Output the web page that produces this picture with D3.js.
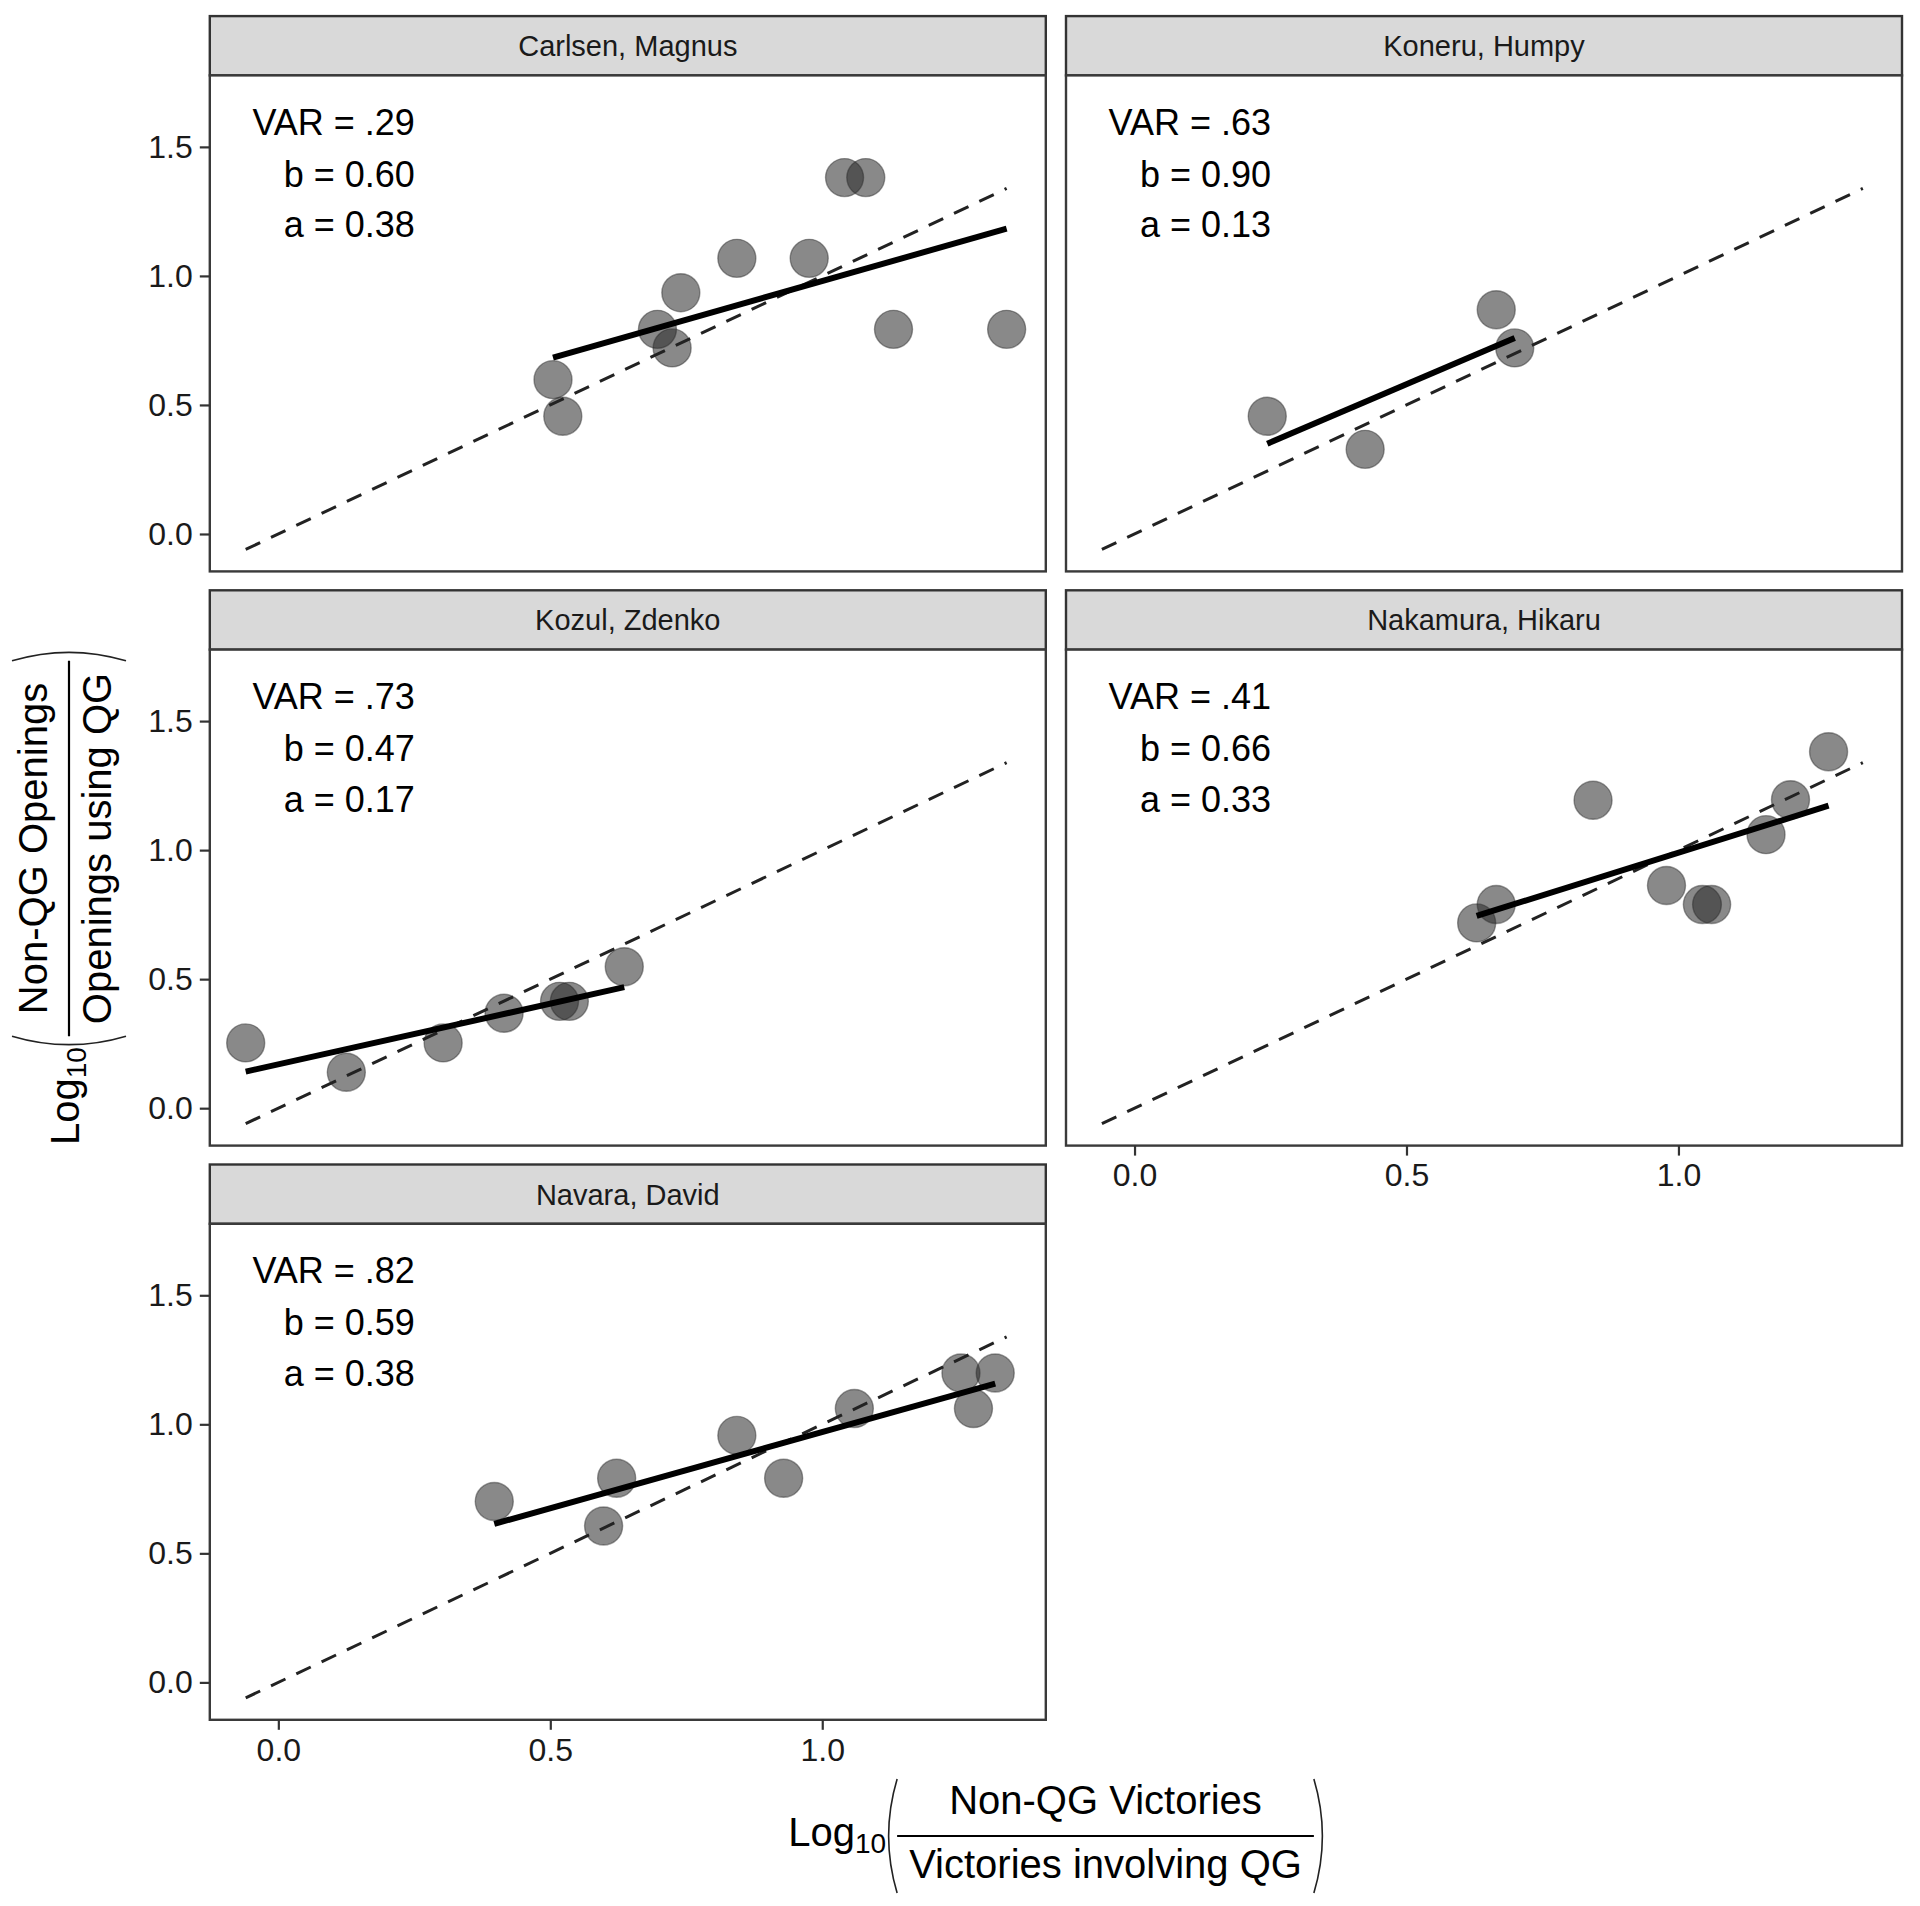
<!DOCTYPE html>
<html><head><meta charset="utf-8">
<script src="https://cdn.jsdelivr.net/npm/d3@7"></script>
<style>
body{margin:0;background:#fff}
svg{display:block}
text{font-family:"Liberation Sans",Arial,Helvetica,sans-serif}
</style>
</head><body><svg id="chart" width="1920" height="1906"></svg>
<script>
// ---------- data ----------
const players = ["Carlsen, Magnus","Koneru, Humpy","Kozul, Zdenko","Nakamura, Hikaru","Navara, David"];
const varText = [".29",".63",".73",".41",".82"];
const slopeB = [0.60,0.90,0.47,0.66,0.59];
const interceptA = [0.38,0.13,0.17,0.33,0.38];
const carlsenX = [0.505,0.523,0.697,0.724,0.740,0.843,0.976,1.041,1.080,1.131,1.339];
const carlsenY = [0.598,0.456,0.793,0.721,0.935,1.068,1.068,1.381,1.381,0.793,0.793];
const koneruX = [0.244,0.424,0.665,0.699];
const koneruY = [0.456,0.328,0.869,0.721];
const kozulX = [-0.060,0.125,0.303,0.415,0.517,0.535,0.636];
const kozulY = [0.253,0.139,0.253,0.368,0.414,0.414,0.548];
const nakamuraX = [0.629,0.665,0.843,0.978,1.044,1.061,1.161,1.206,1.276];
const nakamuraY = [0.718,0.789,1.193,0.863,0.789,0.789,1.060,1.195,1.381];
const navaraX = [0.397,0.598,0.622,0.843,0.929,1.059,1.255,1.278,1.318];
const navaraY = [0.701,0.606,0.791,0.957,0.791,1.061,1.199,1.061,1.199];
const xTicks = [0.0, 0.5, 1.0];
const yTicks = [0.0, 0.5, 1.0, 1.5];
const xTitleNum = "Non-QG Victories", xTitleDen = "Victories involving QG";
const yTitleNum = "Non-QG Openings", yTitleDen = "Openings using QG";

const seriesX = [carlsenX, koneruX, kozulX, nakamuraX, navaraX];
const seriesY = [carlsenY, koneruY, kozulY, nakamuraY, navaraY];

// ---------- layout ----------
const svg = d3.select("#chart");
svg.append("rect").attr("width",1920).attr("height",1906).attr("fill","#fff");
const colLeft = [209.8, 1066], panelW = 836;
const stripTop0 = 16.1, rowPitch = 574.2, stripH = 59.3, panelH = 496;
const xDomain = [-0.126, 1.411], yDomain = [-0.145, 1.777];
const fmt = d3.format(".1f");

const allX = seriesX.flat();
const gMin = d3.min(allX), gMax = d3.max(allX);

players.forEach((name, i) => {
  const r = Math.floor(i/2), c = i % 2;
  const left = colLeft[c];
  const sTop = stripTop0 + r*rowPitch;
  const pTop = sTop + stripH, pBot = pTop + panelH;
  const x = d3.scaleLinear().domain(xDomain).range([left, left+panelW]);
  const y = d3.scaleLinear().domain(yDomain).range([pBot, pTop]);
  const g = svg.append("g");

  // strip
  g.append("rect").attr("x",left).attr("y",sTop).attr("width",panelW).attr("height",stripH)
    .attr("fill","#d9d9d9").attr("stroke","#333").attr("stroke-width",2.4);
  g.append("text").attr("x",left+panelW/2).attr("y",sTop+40).attr("text-anchor","middle")
    .attr("font-size",29).attr("fill","#1a1a1a").text(name);

  // panel background
  g.append("rect").attr("x",left).attr("y",pTop).attr("width",panelW).attr("height",panelH)
    .attr("fill","#fff");

  // points
  const pts = seriesX[i].map((v,k)=>({x:v,y:seriesY[i][k]}));
  g.selectAll("circle.pt").data(pts).enter().append("circle").attr("class","pt")
    .attr("cx",d=>x(d.x)).attr("cy",d=>y(d.y)).attr("r",19)
    .attr("fill","rgba(40,40,40,0.55)").attr("stroke","rgba(40,40,40,0.45)").attr("stroke-width",1.4);

  // identity dashed line
  const line = d3.line().x(d=>x(d[0])).y(d=>y(d[1]));
  g.append("path").datum([[gMin,gMin],[gMax,gMax]]).attr("d",line)
    .attr("stroke","#222").attr("stroke-width",3).attr("stroke-dasharray","16,12").attr("fill","none");

  // regression line
  const xmin = d3.min(seriesX[i]), xmax = d3.max(seriesX[i]);
  g.append("path").datum([[xmin, interceptA[i]+slopeB[i]*xmin],[xmax, interceptA[i]+slopeB[i]*xmax]])
    .attr("d",line).attr("stroke","#000").attr("stroke-width",6).attr("fill","none");

  // annotation
  const ann = ["VAR = " + varText[i], "b = " + slopeB[i].toFixed(2), "a = " + interceptA[i].toFixed(2)];
  const off = [59.3, 111.4, 162];
  ann.forEach((t,k)=>{
    g.append("text").attr("x",left+205).attr("y",pTop+off[k]).attr("text-anchor","end")
      .attr("font-size",36).attr("fill","#000").text(t);
  });

  // panel border
  g.append("rect").attr("x",left).attr("y",pTop).attr("width",panelW).attr("height",panelH)
    .attr("fill","none").attr("stroke","#3a3a3a").attr("stroke-width",2.4);

  // y axis (left column)
  if (c === 0) {
    const ya = d3.axisLeft(y).tickValues(yTicks).tickFormat(fmt).tickSize(10).tickPadding(7);
    const ag = g.append("g").attr("transform",`translate(${left},0)`).call(ya);
    ag.select(".domain").remove();
    ag.selectAll("line").attr("stroke","#333").attr("stroke-width",2.2);
    ag.selectAll("text").attr("font-size",32).attr("fill","#1a1a1a")
      .attr("font-family",'"Liberation Sans",Arial,sans-serif');
  }
  // x axis (bottom panel of each column)
  if (i === 3 || i === 4) {
    const xa = d3.axisBottom(x).tickValues(xTicks).tickFormat(fmt).tickSize(10).tickPadding(8);
    const ag = g.append("g").attr("transform",`translate(0,${pBot})`).call(xa);
    ag.select(".domain").remove();
    ag.selectAll("line").attr("stroke","#333").attr("stroke-width",2.2);
    ag.selectAll("text").attr("font-size",32).attr("fill","#1a1a1a")
      .attr("font-family",'"Liberation Sans",Arial,sans-serif');
  }
});

// ---------- axis titles (Log10 of a fraction in parentheses) ----------
function fracTitle(g, num, den) {
  const t1 = g.append("text").attr("x",0).attr("y",-22).attr("text-anchor","middle")
    .attr("font-size",40).attr("fill","#000").text(num);
  const t2 = g.append("text").attr("x",0).attr("y",42).attr("text-anchor","middle")
    .attr("font-size",40).attr("fill","#000").text(den);
  const w = Math.max(t1.node().getComputedTextLength(), t2.node().getComputedTextLength());
  const half = w/2 + 12;
  g.append("line").attr("x1",-half).attr("x2",half).attr("y1",0).attr("y2",0)
    .attr("stroke","#000").attr("stroke-width",2.2);
  g.append("path").attr("d",`M${-half},-57 Q${-half-17},0 ${-half},57`)
    .attr("fill","none").attr("stroke","#222").attr("stroke-width",1.6);
  g.append("path").attr("d",`M${half},-57 Q${half+17},0 ${half},57`)
    .attr("fill","none").attr("stroke","#222").attr("stroke-width",1.6);
  const lt = g.append("text").attr("x",-half-11).attr("y",10).attr("text-anchor","end")
    .attr("font-size",40).attr("fill","#000");
  lt.append("tspan").text("Log");
  lt.append("tspan").attr("font-size",28).attr("dy",7).text("10");
}
fracTitle(svg.append("g").attr("transform","translate(1105.5,1836)"), xTitleNum, xTitleDen);
fracTitle(svg.append("g").attr("transform","translate(69,848.5) rotate(-90)"), yTitleNum, yTitleDen);
</script>
</body></html>
